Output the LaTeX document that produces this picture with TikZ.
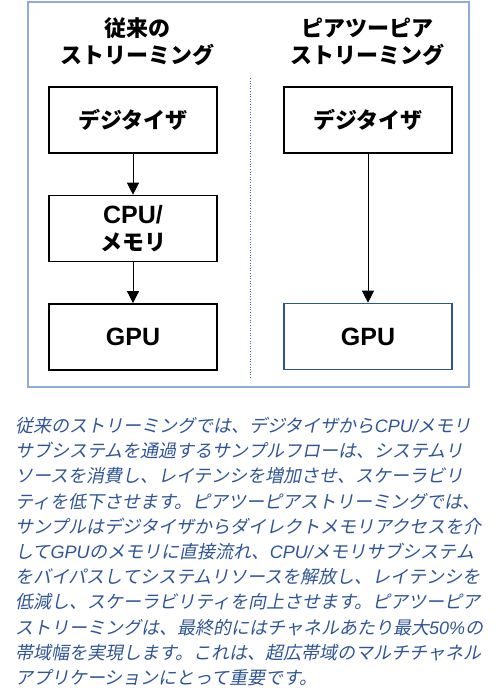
\documentclass[tikz,border=0pt]{standalone}
\usepackage{fontspec}
\setmainfont{Liberation Sans}
\newfontfamily\lat{Liberation Sans}
\newfontfamily\jp{Noto Sans CJK JP}
\newfontfamily\jpsl{Noto Sans CJK JP}[FakeSlant=0.2]
\usetikzlibrary{positioning,arrows.meta}
\definecolor{framebl}{RGB}{143,170,220}
\definecolor{deepbl}{RGB}{47,85,151}
\definecolor{dotbl}{RGB}{68,114,196}
\newcommand\latin[1]{{\lat #1}}
\newcommand\boxlatin[1]{{\lat\fontsize{25}{27}\selectfont #1}}

\begin{document}
\begin{tikzpicture}[x=1pt, y=1pt,
  node distance=41pt and 0pt,
  box/.style={draw, line width=1.4pt, minimum width=168pt, minimum height=66pt, inner sep=0pt, align=center, font=\fontsize{22}{27}\selectfont\jp\bfseries},
  gpubox/.style={box, draw=deepbl},
  title/.style={align=center, font=\fontsize{22}{27}\selectfont\jp\bfseries},
  arrow/.style={-{Triangle[length=12pt, width=12pt]}, line width=0.8pt},
  para/.style={align=left, inner sep=0pt, text=deepbl, font=\fontsize{18}{25.2}\selectfont\jpsl\itshape}]
\useasboundingbox (0,0) rectangle (500,-700);
% outer frame
\draw[framebl, line width=1.5pt] (28,-2) rectangle (469,-387);
% column titles
\node[title] (ttl) at (137,-42) {従来の\\ストリーミング};
\node[title] (ttr) at (367,-42) {ピアツーピア\\ストリーミング};
% conventional path
\node[box] (digl) at (133,-120) {デジタイザ};
\node[box, below=of digl] (cpu) {\boxlatin{CPU/}\\メモリ};
\node[box, below=of cpu] (gpul) {\boxlatin{GPU}};
% peer-to-peer path
\node[box] (digr) at (368,-120) {デジタイザ};
\node[gpubox, below=149pt of digr] (gpur) {\boxlatin{GPU}};
\draw[arrow] (digl) -- (cpu);
\draw[arrow] (cpu) -- (gpul);
\draw[arrow] (digr) -- (gpur);
% separator
\coordinate (septop) at (250,-78);
\coordinate (sepbot) at (250,-378);
\draw[dotbl, dotted, line width=0.6pt] (septop) -- (sepbot);
% caption
\node[para, anchor=north west] (desc) at (15,-417) {%
従来のストリーミングでは、デジタイザから\latin{CPU/}メモリ\\
サブシステムを通過するサンプルフローは、システムリ\\
ソースを消費し、レイテンシを増加させ、スケーラビリ\\
ティを低下させます。ピアツーピアストリーミングでは、\\
サンプルはデジタイザからダイレクトメモリアクセスを介\\
して\latin{GPU}のメモリに直接流れ、\latin{CPU/}メモリサブシステム\\
をバイパスしてシステムリソースを解放し、レイテンシを\\
低減し、スケーラビリティを向上させます。ピアツーピア\\
ストリーミングは、最終的にはチャネルあたり最大\latin{50\%}の\\
帯域幅を実現します。これは、超広帯域のマルチチャネル\\
アプリケーションにとって重要です。};
\end{tikzpicture}
\end{document}
